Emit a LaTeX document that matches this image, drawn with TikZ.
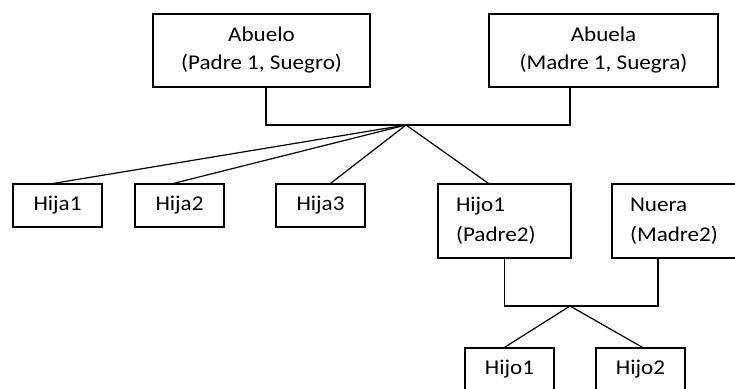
\documentclass[tikz,border=0pt]{standalone}
\usepackage{fontspec}
\setmainfont{Carlito}[FakeStretch=1.1]
\begin{document}
\begin{tikzpicture}[x=1pt,y=-1pt,line width=1.2pt,
    persona/.style={draw,font=\fontsize{21}{28}\selectfont,align=center,minimum height=73pt,inner sep=0pt},
    hija/.style={draw,font=\fontsize{21}{28}\selectfont,minimum width=89pt,minimum height=43pt,inner sep=0pt},
    pareja/.style={draw,font=\fontsize{21}{30}\selectfont,align=left,text width=97pt,minimum height=74pt,inner xsep=18pt,inner ysep=0pt}]
        \useasboundingbox (0,0) rectangle (735,388);
        \clip (0,0) rectangle (735,388);
        % abuelos
        \node[persona,minimum width=217pt] (abuelo) at (261.5,50.5) {Abuelo\\(Padre 1, Suegro)};
        \node[persona,minimum width=229pt] (abuela) at (603.5,50.5) {Abuela\\(Madre 1, Suegra)};
        % hijos
        \node[hija] (hija1) at (57.5,205.5) {Hija1};
        \node[hija] (hija2) at (179.5,205.5) {Hija2};
        \node[hija] (hija3) at (320.5,205.5) {Hija3};
        \node[pareja] (padre2) at (504.5,221) {Hijo1\\(Padre2)};
        \node[pareja] (nuera) at (678.5,221) {Nuera\\(Madre2)};
        % nietos
        \node[hija] (nieto1) at (509.5,369.5) {Hijo1};
        \node[hija] (nieto2) at (640.5,369.5) {Hijo2};
        % lineas
        \coordinate (hub) at (406,125);
        \coordinate (barl) at (266,125);
        \coordinate (barr) at (570,125);
        \draw (barl |- abuelo.south) -- (barl) -- (barr) -- (barr |- abuela.south);
        \foreach \n/\dx in {hija1/-4,hija2/-6,hija3/10,padre2/-16}
            \draw (hub) -- ([xshift=\dx]\n.north);
        \coordinate (hub2) at (570,306);
        \coordinate (barr2) at (658,306);
        \draw (padre2.south) |- (barr2) -- (barr2 |- nuera.south);
        \draw (hub2) -- ([xshift=-5]nieto1.north);
        \draw (hub2) -- ([xshift=2]nieto2.north);
    \end{tikzpicture}
\end{document}
